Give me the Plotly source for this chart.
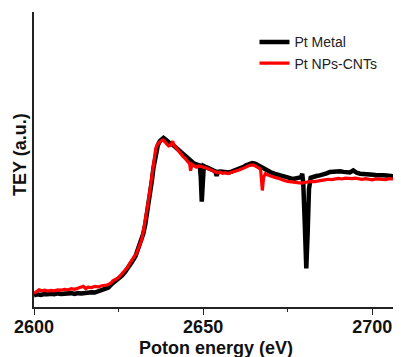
import plotly.graph_objects as go

# Photon energy (eV) and TEY (a.u.)
metal_x = [2600.0, 2601.0, 2602.0, 2603.0, 2604.0, 2605.0, 2606.0, 2607.0, 2608.0, 2609.0,
           2610.0, 2611.0, 2612.0, 2613.0, 2614.0, 2615.0, 2616.0, 2617.0, 2618.0, 2619.0,
           2620.0, 2621.0, 2622.0, 2623.0, 2624.0, 2625.0, 2626.0, 2627.0, 2628.0, 2629.0,
           2630.0, 2630.8, 2631.6, 2632.3, 2632.9, 2633.4, 2633.9, 2634.4, 2634.9, 2635.3,
           2635.7, 2636.1, 2636.6, 2637.2, 2637.8, 2638.3, 2638.9, 2639.5, 2640.1, 2640.8,
           2641.5, 2642.2, 2642.9, 2643.6, 2644.3, 2645.0, 2645.7, 2646.4, 2647.1, 2647.8,
           2648.5, 2649.0, 2649.3, 2649.6, 2649.9, 2650.2, 2650.9, 2651.6, 2652.3, 2653.0,
           2653.6, 2654.0, 2654.4, 2655.2, 2656.0, 2656.8, 2657.6, 2658.4, 2659.2, 2660.0,
           2660.9, 2661.8, 2662.7, 2663.6, 2664.5, 2665.4, 2666.3, 2667.2, 2668.1, 2669.0,
           2670.0, 2671.0, 2672.0, 2673.0, 2674.0, 2675.0, 2676.0, 2677.0, 2678.0, 2679.0,
           2679.3, 2679.6, 2680.0, 2680.5, 2680.9, 2681.3, 2681.8, 2682.5, 2683.5, 2684.5,
           2685.5, 2686.5, 2687.5, 2688.5, 2689.5, 2690.5, 2691.5, 2692.5, 2693.4, 2694.4,
           2695.4, 2696.4, 2697.4, 2698.4, 2699.3, 2700.3, 2701.3, 2702.3, 2703.3, 2704.3,
           2705.3, 2706.3, 2707.3, 2708.5]
metal_y = [0.040, 0.043, 0.041, 0.044, 0.043, 0.045, 0.043, 0.046, 0.044, 0.046,
           0.045, 0.047, 0.044, 0.047, 0.046, 0.048, 0.047, 0.050, 0.049, 0.053,
           0.055, 0.060, 0.066, 0.078, 0.086, 0.095, 0.106, 0.120, 0.135, 0.153,
           0.172, 0.195, 0.218, 0.248, 0.280, 0.314, 0.350, 0.390, 0.432, 0.470,
           0.502, 0.528, 0.548, 0.562, 0.570, 0.573, 0.568, 0.560, 0.556, 0.552,
           0.545, 0.538, 0.532, 0.524, 0.516, 0.508, 0.500, 0.493, 0.488, 0.484,
           0.482, 0.480, 0.440, 0.357, 0.420, 0.478, 0.474, 0.470, 0.467, 0.463,
           0.460, 0.445, 0.458, 0.459, 0.457, 0.458, 0.456, 0.459, 0.462, 0.465,
           0.468, 0.474, 0.480, 0.486, 0.488, 0.486, 0.480, 0.472, 0.466, 0.461,
           0.457, 0.452, 0.448, 0.444, 0.440, 0.437, 0.436, 0.435, 0.436, 0.440,
           0.452, 0.420, 0.300, 0.131, 0.250, 0.400, 0.438, 0.442, 0.444, 0.446,
           0.448, 0.453, 0.458, 0.459, 0.458, 0.460, 0.458, 0.456, 0.456, 0.463,
           0.455, 0.452, 0.450, 0.449, 0.447, 0.448, 0.447, 0.448, 0.447, 0.446,
           0.445, 0.443, 0.442, 0.440]

cnt_x = [2600.0, 2600.8, 2601.5, 2602.3, 2603.2, 2604.0, 2605.0, 2606.0, 2607.0, 2608.0,
         2609.0, 2610.0, 2611.0, 2612.0, 2613.0, 2614.0, 2614.6, 2615.3, 2616.0, 2617.0,
         2618.0, 2619.0, 2620.0, 2621.0, 2622.0, 2622.8, 2623.4, 2624.2, 2625.0, 2625.8,
         2626.8, 2627.6, 2628.3, 2629.2, 2630.3, 2631.0, 2631.8, 2632.3, 2632.8, 2633.3,
         2633.7, 2634.2, 2634.7, 2635.1, 2635.4, 2635.7, 2636.0, 2636.6, 2637.2, 2637.8,
         2638.2, 2638.7, 2639.3, 2639.8, 2640.4, 2641.0, 2641.4, 2642.1, 2642.8, 2643.4,
         2644.1, 2644.8, 2645.4, 2646.0, 2646.3, 2646.7, 2647.4, 2648.0, 2648.7, 2649.4,
         2650.0, 2650.7, 2651.4, 2652.0, 2652.8, 2653.5, 2654.2, 2655.0, 2655.8, 2656.6,
         2657.4, 2658.2, 2659.0, 2659.9, 2660.8, 2661.8, 2662.8, 2663.8, 2664.8, 2665.6,
         2666.4, 2667.0, 2667.5, 2667.9, 2668.4, 2669.2, 2670.0, 2671.0, 2672.0, 2673.0,
         2674.0, 2675.0, 2676.0, 2677.0, 2678.0, 2679.0, 2680.0, 2681.0, 2682.0, 2683.0,
         2684.0, 2685.0, 2686.0, 2687.0, 2688.0, 2689.0, 2690.0, 2691.0, 2692.0, 2693.0,
         2694.0, 2695.0, 2696.0, 2697.0, 2698.0, 2699.0, 2700.0, 2701.0, 2702.0, 2703.0,
         2704.0, 2705.0, 2706.0, 2707.0, 2708.5]
cnt_y = [0.046, 0.052, 0.058, 0.055, 0.057, 0.054, 0.056, 0.055, 0.058, 0.057,
         0.060, 0.058, 0.062, 0.060, 0.063, 0.066, 0.070, 0.062, 0.067, 0.066,
         0.070, 0.068, 0.072, 0.073, 0.076, 0.082, 0.090, 0.094, 0.100, 0.110,
         0.122, 0.134, 0.148, 0.163, 0.182, 0.203, 0.227, 0.254, 0.284, 0.319,
         0.352, 0.390, 0.431, 0.468, 0.498, 0.522, 0.538, 0.553, 0.560, 0.565,
         0.566, 0.561, 0.552, 0.546, 0.548, 0.562, 0.548, 0.538, 0.527, 0.522,
         0.510, 0.502, 0.495, 0.486, 0.462, 0.484, 0.478, 0.474, 0.478, 0.476,
         0.476, 0.472, 0.469, 0.466, 0.462, 0.458, 0.455, 0.457, 0.453, 0.455,
         0.452, 0.456, 0.458, 0.462, 0.465, 0.470, 0.476, 0.480, 0.482, 0.478,
         0.472, 0.466, 0.395, 0.440, 0.452, 0.447, 0.443, 0.440, 0.437, 0.432,
         0.429, 0.426, 0.424, 0.422, 0.421, 0.420, 0.422, 0.424, 0.426, 0.425,
         0.428, 0.429, 0.431, 0.433, 0.432, 0.435, 0.436, 0.434, 0.437, 0.436,
         0.435, 0.437, 0.436, 0.433, 0.435, 0.433, 0.431, 0.434, 0.433, 0.433,
         0.432, 0.435, 0.434, 0.436, 0.436]

x_ticks = [2600, 2650, 2700]
x_tick_labels = ["2600", "2650", "2700"]
x_title = "Poton energy (eV)"
y_title = "TEY (a.u.)"

FONT = "Liberation Sans, Arial, sans-serif"
# the page body adds an 8 px offset; figure spans page px 8..401 x 8..357
OFF = 8
W, H = 401 - OFF, 357 - OFF
ML, MR, MT, MB = 34 - OFF, 0, 12 - OFF, 50
PW, PH = W - ML - MR, H - MT - MB


def px_x(page_x):
    return (page_x - OFF - ML) / PW


def px_y(page_y):
    return (H - MB - (page_y - OFF)) / PH


fig = go.Figure()
fig.add_trace(go.Scatter(x=metal_x, y=metal_y, mode="lines", name="Pt Metal",
                         line=dict(color="#000000", width=4.5)))
fig.add_trace(go.Scatter(x=cnt_x, y=cnt_y, mode="lines", name="Pt NPs-CNTs",
                         line=dict(color="#ff0000", width=3.2)))

fig.update_layout(
    width=W, height=H,
    margin=dict(l=ML, r=MR, t=MT, b=MB, autoexpand=False),
    paper_bgcolor="white", plot_bgcolor="white",
    font=dict(family=FONT, color="#111111"),
    showlegend=True,
    legend=dict(x=px_x(254.5), y=px_y(26.3), xanchor="left", yanchor="top",
                bgcolor="rgba(0,0,0,0)", font=dict(size=14, family=FONT, color="#222222"),
                tracegroupgap=0, itemwidth=30),
    xaxis=dict(range=[2600, 2708.5], showgrid=False, zeroline=False, automargin=False,
               showline=True, linecolor="#222222", linewidth=1.5,
               ticks="outside", ticklen=6, tickwidth=1.2, tickcolor="#222222",
               ticklabelstandoff=-3,
               tickvals=x_ticks, ticktext=x_tick_labels,
               tickfont=dict(size=18, family=FONT, weight="bold", color="#111111"),
               minor=dict(tickvals=[2625, 2675], ticks="outside", ticklen=3,
                          tickwidth=1.2, tickcolor="#222222")),
    yaxis=dict(range=[0, 1], showgrid=False, zeroline=False, automargin=False,
               showline=True, linecolor="#222222", linewidth=1.5,
               ticks="", showticklabels=False),
    annotations=[
        dict(text=x_title, xref="paper", yref="paper",
             x=px_x(215.5), y=px_y(348.5),
             xanchor="center", yanchor="middle", showarrow=False,
             font=dict(size=18, family=FONT, weight="bold", color="#111111")),
        dict(text=y_title, xref="paper", yref="paper", textangle=-90,
             x=px_x(20), y=px_y(155),
             xanchor="center", yanchor="middle", showarrow=False,
             font=dict(size=18, family=FONT, weight="bold", color="#111111")),
    ],
)

fig.write_html("out.html")
